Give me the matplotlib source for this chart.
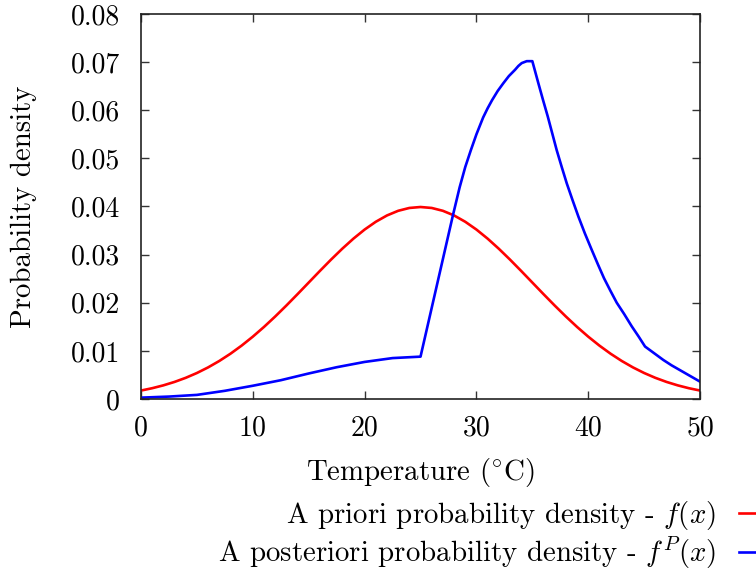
import matplotlib
matplotlib.use("Agg")
import matplotlib.pyplot as plt

plt.rcParams['font.family'] = ['cmr10', 'DejaVu Serif']
plt.rcParams['mathtext.fontset'] = 'cm'
plt.rcParams['axes.formatter.use_mathtext'] = True

# a priori density (symmetric bell around 25)
prior_x = list(range(0, 51))
prior_half = [0.001753, 0.002239, 0.002833, 0.003547, 0.004398, 0.005399, 0.006562, 0.007895,
              0.009405, 0.011092, 0.012952, 0.014973, 0.017137, 0.019419, 0.021785, 0.024197,
              0.026609, 0.028969, 0.031225, 0.033322, 0.035207, 0.036827, 0.038139, 0.039104,
              0.039695, 0.039894]
prior_y = prior_half + prior_half[-2::-1]

# a posteriori density
post_x = [0, 2.5, 5, 7.5, 10, 12.5, 15, 17.5, 20, 22.5, 25,
          27.9, 28.5, 29.0, 29.5, 30.0, 30.6, 31.0, 31.4, 31.9, 32.4, 32.9, 33.45, 33.75,
          34.05, 34.5, 35.0,
          35.27, 35.54, 35.96, 36.38, 36.78, 37.18, 37.63, 38.08, 38.6, 39.12, 39.7,
          40.31, 40.86, 41.41, 41.98, 42.55, 43.2, 43.89, 44.5, 45.08,
          45.9, 46.72, 47.45, 48.2, 49.1, 50]
post_y = [0.00028, 0.0005, 0.00085, 0.0017, 0.00275, 0.0039, 0.0053, 0.0066, 0.0077, 0.0085, 0.0088,
          0.0382, 0.0440, 0.0482, 0.0517, 0.0550, 0.0585, 0.0604, 0.0621, 0.0640, 0.0656, 0.0671,
          0.0684, 0.0692, 0.0698, 0.0702, 0.0702,
          0.0679, 0.0656, 0.0621, 0.0587, 0.0552, 0.0517, 0.0482, 0.0448, 0.0413, 0.0379, 0.0344,
          0.0310, 0.0280, 0.0251, 0.0225, 0.0200, 0.0177, 0.0151, 0.0130, 0.0109,
          0.0095, 0.0081, 0.0070, 0.0060, 0.0048, 0.0036]

x_ticks = [0, 10, 20, 30, 40, 50]
y_ticks = [0, 0.01, 0.02, 0.03, 0.04, 0.05, 0.06, 0.07, 0.08]
y_labels = ["0", "0.01", "0.02", "0.03", "0.04", "0.05", "0.06", "0.07", "0.08"]

fs = 20.8

fig = plt.figure(figsize=(7.56, 5.74), dpi=100)
ax = fig.add_axes([0.1865, 0.3049, 0.7395, 0.6707])

ax.plot(prior_x, prior_y, color='#ff0000', lw=1.9,
        label=r'A priori probability density - $f(x)$')
ax.plot(post_x, post_y, color='#0000ff', lw=1.9,
        label=r'A posteriori probability density - $f^P(x)$')

ax.set_xlim(0, 50)
ax.set_ylim(0, 0.08)
ax.set_xticks(x_ticks)
ax.set_xticklabels([str(t) for t in x_ticks])
ax.set_yticks(y_ticks)
ax.set_yticklabels(y_labels)
ax.tick_params(direction='in', length=6, width=1, top=True, right=True,
               labelsize=20, color='#333333')
ax.tick_params(axis='x', pad=12)
ax.tick_params(axis='y', pad=15)
for s in ax.spines.values():
    s.set_linewidth(1.2)
    s.set_color('#222222')

ax.set_xlabel(r'Temperature (${}^{\circ}$C)', fontsize=fs, labelpad=10)
ax.set_ylabel('Probability density', fontsize=fs, labelpad=24)

ax.legend(loc='upper right', bbox_to_anchor=(1.035, 0.13),
          bbox_transform=fig.transFigure, frameon=False, markerfirst=False,
          fontsize=fs, handlelength=1.5, handletextpad=0.8, labelspacing=0.1,
          borderpad=0, borderaxespad=0)

fig.savefig("out.png", dpi=100)
